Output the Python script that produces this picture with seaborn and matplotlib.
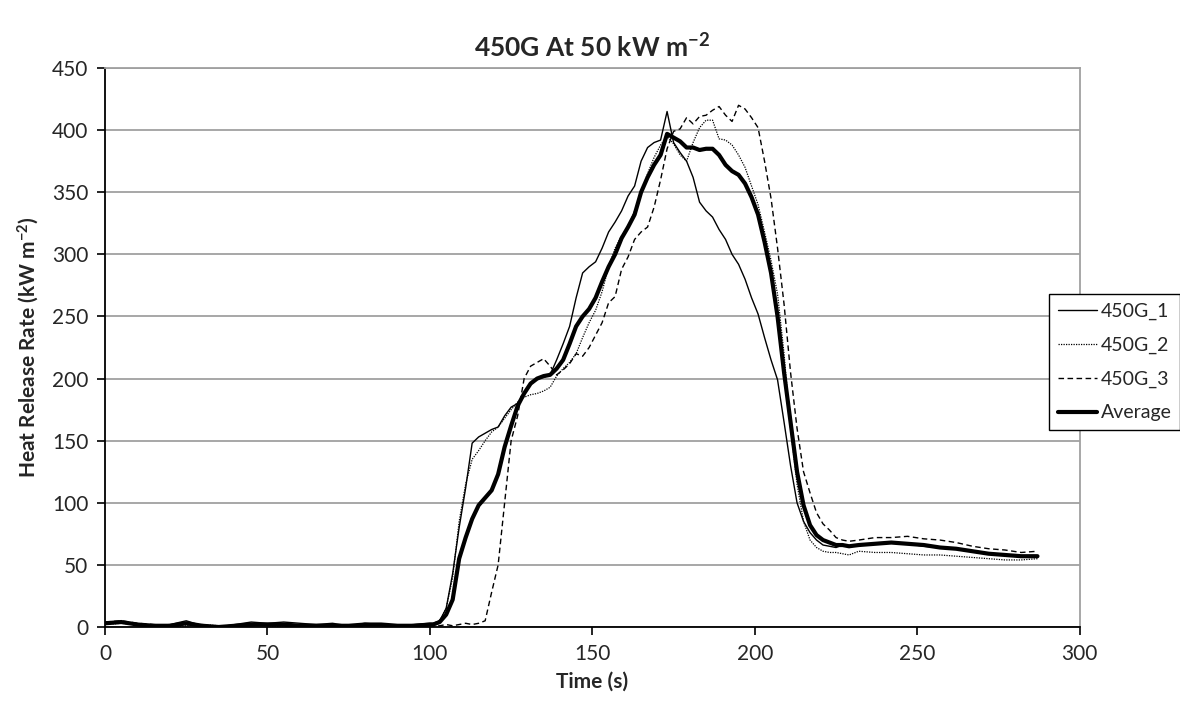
import numpy as np
import pandas as pd
import matplotlib
matplotlib.use('Agg')
import matplotlib.pyplot as plt
import seaborn as sns

sns.set_theme(style='white')
plt.rcParams['font.family'] = ['Lato', 'DejaVu Sans']
plt.rcParams['mathtext.fontset'] = 'custom'
plt.rcParams['mathtext.rm'] = 'Lato'
plt.rcParams['mathtext.bf'] = 'Lato:bold'
plt.rcParams['mathtext.default'] = 'bf'

# time grid (s)
time = (list(range(0, 101, 5)) + list(range(101, 230, 2))
        + list(range(232, 288, 5)))

# heat release rate, kW m-2
g1 = ([3, 4, 2, 1, 2, 5, 1, 0, 2, 4, 3, 4, 3, 2, 3, 1, 3, 2, 1, 2, 3]
      + [3, 5, 15, 43, 80, 112, 148, 153, 156, 159, 161, 170, 177, 180, 187,
         195, 200, 201, 203, 215, 228, 242, 265, 285, 290, 294, 305, 318, 326,
         335, 347, 355, 375, 386, 390, 392, 415, 390, 382, 375, 362, 342, 335,
         330, 320, 312, 300, 292, 280, 265, 252, 233, 215, 199, 165, 130, 100,
         85, 76, 70, 66, 65, 64, 66, 65]
      + [66, 67, 68, 67, 65, 64, 63, 61, 59, 58, 57, 57])
g2 = ([2, 3, 2, 1, 0, 1, 2, 1, 1, 2, 1, 0, 1, 1, 0, 1, 2, 1, 0, 1, 1]
      + [2, 5, 15, 40, 85, 115, 135, 142, 150, 157, 161, 168, 175, 181, 185,
         187, 188, 190, 193, 202, 208, 213, 220, 233, 245, 255, 270, 290, 305,
         315, 322, 335, 350, 365, 378, 388, 395, 389, 380, 375, 390, 402, 408,
         408, 393, 392, 388, 380, 370, 355, 340, 318, 295, 268, 220, 160, 115,
         85, 70, 64, 61, 60, 60, 59, 58]
      + [61, 60, 60, 59, 58, 58, 57, 56, 55, 54, 54, 55])
g3 = ([4, 5, 3, 2, 1, 2, 1, 0, 1, 1, 2, 1, 0, 1, 1, 0, 1, 2, 1, 1, 1]
      + [1, 1, 2, 1, 2, 3, 2, 3, 5, 28, 50, 100, 150, 170, 200,
         210, 213, 216, 210, 203, 207, 212, 220, 218, 225, 235, 245, 261, 266,
         288, 298, 312, 318, 322, 338, 360, 385, 399, 401, 410, 405, 411, 412,
         416, 419, 412, 407, 420, 417, 410, 402, 375, 345, 305, 260, 205, 160,
         125, 108, 92, 83, 78, 72, 70, 69]
      + [70, 72, 72, 73, 71, 70, 68, 65, 63, 62, 60, 61])
avg = ([3, 4, 2, 1, 1, 3, 1, 0, 1, 2, 2, 2, 1, 1, 1, 1, 2, 2, 1, 1, 2]
       + [2, 4, 10, 22, 55, 72, 87, 98, 104, 110, 123, 145, 162, 178, 188,
          196, 200, 202, 203, 208, 215, 228, 242, 250, 256, 265, 278, 290, 300,
          313, 322, 332, 350, 362, 372, 380, 397, 394, 391, 386, 386, 384, 385,
          385, 380, 372, 367, 364, 357, 346, 332, 310, 285, 250, 205, 165, 125,
          98, 82, 74, 70, 68, 66, 66, 65]
       + [66, 67, 68, 67, 66, 64, 63, 61, 59, 58, 57, 57])

series = ['450G_1', '450G_2', '450G_3', 'Average']
df = pd.DataFrame({'time': time, '450G_1': g1, '450G_2': g2,
                   '450G_3': g3, 'Average': avg})

styles = {
    '450G_1': dict(lw=1.0, ls='-'),
    '450G_2': dict(lw=0.9, ls=(0, (1, 1))),
    '450G_3': dict(lw=1.0, ls=(0, (4, 2.5))),
    'Average': dict(lw=3.0, ls='-'),
}

fig, ax = plt.subplots(figsize=(11.8, 7.13), dpi=100)
fig.subplots_adjust(left=0.089, right=0.915, bottom=0.1206, top=0.9046)

for name in series:
    sns.lineplot(data=df, x='time', y=name, ax=ax, color='black',
                 linewidth=styles[name]['lw'], linestyle=styles[name]['ls'],
                 label=name)

ax.set_xlim(0, 300)
ax.set_ylim(0, 450)
ax.set_xticks(range(0, 301, 50))
ax.set_yticks(range(0, 451, 50))
ax.yaxis.grid(True, color='#a0a0a0', lw=1.3)
ax.set_axisbelow(True)

for side in ['top', 'right']:
    ax.spines[side].set_color('#a0a0a0')
    ax.spines[side].set_linewidth(1.3)
for side in ['left', 'bottom']:
    ax.spines[side].set_color('black')
    ax.spines[side].set_linewidth(1.3)

ax.tick_params(axis='both', which='major', direction='out', length=6,
               width=1.2, color='black', labelsize=15, pad=6,
               bottom=True, left=True)

ax.set_xlabel('Time (s)', fontsize=15, fontweight='bold', labelpad=6)
ax.set_ylabel('Heat Release Rate (kW m$^{-2}$)', fontsize=15,
              fontweight='bold', labelpad=8)
ax.set_title('450G At 50 kW m$^{-2}$', fontsize=19, fontweight='bold', pad=8)

ax.legend(loc='center left', bbox_to_anchor=(1049 / 1180, 0.492),
          bbox_transform=fig.transFigure, frameon=True, fancybox=False,
          edgecolor='black', framealpha=1, fontsize=14, handlelength=2.0,
          handletextpad=0.2, borderpad=0.45, labelspacing=0.85,
          borderaxespad=0)
ax.get_legend().get_frame().set_linewidth(1.0)

fig.savefig('out.png', dpi=100)
